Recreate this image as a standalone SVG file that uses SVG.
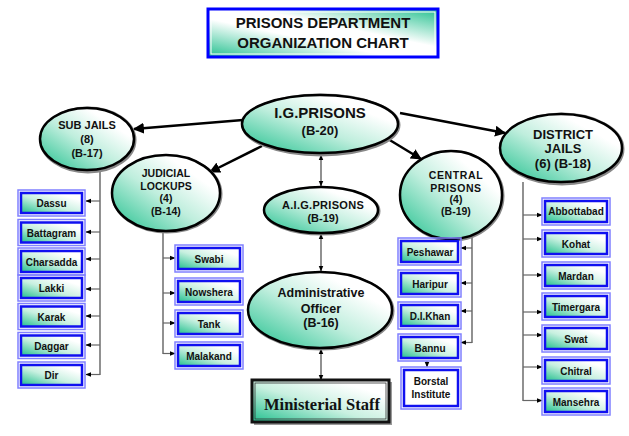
<svg xmlns="http://www.w3.org/2000/svg" width="629" height="436" viewBox="0 0 629 436">
<defs>
<linearGradient id="gEll" x1="0" y1="1" x2="1" y2="0">
<stop offset="0" stop-color="#1dbf8c"/>
<stop offset="0.45" stop-color="#bfeedd"/>
<stop offset="0.75" stop-color="#ffffff"/>
</linearGradient>
<linearGradient id="gBox" x1="0" y1="1" x2="1" y2="0">
<stop offset="0" stop-color="#22c08e"/>
<stop offset="0.45" stop-color="#c8f0e0"/>
<stop offset="0.8" stop-color="#ffffff"/>
</linearGradient>
<linearGradient id="gTitle" x1="0" y1="1" x2="1" y2="0">
<stop offset="0" stop-color="#22c08e"/>
<stop offset="0.4" stop-color="#ffffff"/>
<stop offset="0.6" stop-color="#ffffff"/>
<stop offset="1" stop-color="#22c08e"/>
</linearGradient>
<marker id="aBig" viewBox="0 0 10 10" refX="9" refY="5" markerWidth="4.4" markerHeight="4.4" orient="auto" markerUnits="strokeWidth">
<path d="M0,0 L10,5 L0,10 z" fill="#000"/>
</marker>
<marker id="aSm" viewBox="0 0 10 10" refX="9" refY="5" markerWidth="6" markerHeight="6" orient="auto" markerUnits="userSpaceOnUse">
<path d="M0,1 L10,5 L0,9 z" fill="#000"/>
</marker>
<marker id="aSmS" viewBox="0 0 10 10" refX="1" refY="5" markerWidth="6" markerHeight="6" orient="auto" markerUnits="userSpaceOnUse">
<path d="M10,1 L0,5 L10,9 z" fill="#000"/>
</marker>
</defs>
<style>
.ell{fill:url(#gEll);stroke:#000;stroke-width:2.5}
.sh{fill:none;stroke:#888;stroke-width:3}
.t{font-family:"Liberation Sans",Arial,sans-serif;font-weight:bold;fill:#111;text-anchor:middle}
.bo{fill:none;stroke:#8080ff;stroke-width:1.5}
.bi{fill:url(#gBox);stroke:#1010f0;stroke-width:2.5}
.bw{fill:#fff;stroke:#1010f0;stroke-width:2.5}
.bt{font-family:"Liberation Sans",Arial,sans-serif;font-weight:bold;fill:#111;text-anchor:middle;font-size:10px}
.thick{stroke:#000;stroke-width:2.5;fill:none;marker-end:url(#aBig)}
.thin{stroke:#555;stroke-width:1.3;fill:none}
.br{stroke:#666;stroke-width:1.2;fill:none;marker-end:url(#aSm)}
</style>

<g id="title">
<rect x="208" y="9" width="230" height="48" fill="url(#gTitle)" stroke="#0000ff" stroke-width="3"/>
<rect x="211" y="12" width="224" height="42" fill="none" stroke="#ffffff" stroke-width="1"/>
<text class="t" x="323" y="28" font-size="15">PRISONS DEPARTMENT</text>
<text class="t" x="323" y="48" font-size="15">ORGANIZATION CHART</text>
</g>

<g id="connectors">
<line class="thick" x1="243" y1="120" x2="134" y2="129"/>
<line class="thick" x1="262" y1="146" x2="210" y2="172"/>
<line class="thick" x1="400" y1="113" x2="505" y2="133"/>
<line class="thick" x1="388" y1="139" x2="421" y2="159"/>
<line class="thin" x1="321" y1="155" x2="321" y2="186" marker-start="url(#aSmS)" marker-end="url(#aSm)"/>
<line class="thin" x1="321" y1="234" x2="321" y2="271" marker-start="url(#aSmS)" marker-end="url(#aSm)"/>
<line class="thin" x1="321" y1="349" x2="321" y2="380" marker-start="url(#aSmS)" marker-end="url(#aSm)"/>
<!-- sub jails -->
<line class="thin" stroke="#777" x1="100" y1="166" x2="100" y2="375"/>
<line class="br" x1="100" y1="201" x2="86" y2="201"/>
<line class="br" x1="100" y1="232" x2="86" y2="232"/>
<line class="br" x1="100" y1="259" x2="86" y2="259"/>
<line class="br" x1="100" y1="289" x2="86" y2="289"/>
<line class="br" x1="100" y1="316" x2="86" y2="316"/>
<line class="br" x1="100" y1="345" x2="86" y2="345"/>
<line class="br" x1="100" y1="374.5" x2="86" y2="374.5"/>
<!-- judicial -->
<line class="thin" stroke="#777" x1="163" y1="230" x2="163" y2="354"/>
<line class="br" x1="163" y1="258" x2="175" y2="258"/>
<line class="br" x1="163" y1="293" x2="175" y2="293"/>
<line class="br" x1="163" y1="323" x2="175" y2="323"/>
<line class="br" x1="163" y1="353.5" x2="175" y2="353.5"/>
<!-- central -->
<line class="thin" stroke="#777" x1="472" y1="236" x2="472" y2="343"/>
<line class="br" x1="472" y1="248" x2="461" y2="248"/>
<line class="br" x1="472" y1="283" x2="461" y2="283"/>
<line class="br" x1="472" y1="311" x2="461" y2="311"/>
<line class="br" x1="472" y1="342.5" x2="461" y2="342.5"/>
<line class="br" x1="427" y1="361" x2="427" y2="367"/>
<!-- district -->
<line class="thin" stroke="#777" x1="523" y1="182" x2="523" y2="401"/>
<line class="br" x1="523" y1="215" x2="542" y2="215"/>
<line class="br" x1="523" y1="239" x2="542" y2="239"/>
<line class="br" x1="523" y1="275" x2="542" y2="275"/>
<line class="br" x1="523" y1="312" x2="542" y2="312"/>
<line class="br" x1="523" y1="335" x2="542" y2="335"/>
<line class="br" x1="523" y1="367" x2="542" y2="367"/>
<line class="br" x1="523" y1="400.5" x2="542" y2="400.5"/>
</g>

<g id="ig">
<ellipse class="sh" cx="321" cy="125" rx="78" ry="30"/>
<ellipse class="ell" cx="320" cy="124" rx="78" ry="29"/>
<text class="t" x="320" y="118" font-size="15">I.G.PRISONS</text>
<text class="t" x="320" y="135" font-size="13">(B-20)</text>
</g>

<g id="subjails">
<ellipse class="sh" cx="88" cy="140" rx="47" ry="32"/>
<ellipse class="ell" cx="87" cy="139" rx="47" ry="31"/>
<text class="t" x="87" y="129" font-size="11">SUB JAILS</text>
<text class="t" x="87" y="143" font-size="11">(8)</text>
<text class="t" x="87" y="157" font-size="11">(B-17)</text>
</g>

<g id="judicial">
<ellipse class="sh" cx="167" cy="194" rx="54" ry="38"/>
<ellipse class="ell" cx="166" cy="193" rx="54" ry="38"/>
<text class="t" x="166" y="177" font-size="10.5">JUDICIAL</text>
<text class="t" x="166" y="190" font-size="10.5">LOCKUPS</text>
<text class="t" x="166" y="202" font-size="10.5">(4)</text>
<text class="t" x="166" y="215" font-size="10.5">(B-14)</text>
</g>

<g id="aig">
<ellipse class="sh" cx="322" cy="211" rx="57" ry="23"/>
<ellipse class="ell" cx="321" cy="210" rx="57" ry="23"/>
<text class="t" x="323" y="209" font-size="11" letter-spacing="0.3">A.I.G.PRISONS</text>
<text class="t" x="323" y="222" font-size="11">(B-19)</text>
</g>

<g id="central">
<ellipse class="sh" cx="452" cy="196" rx="51" ry="44"/>
<ellipse class="ell" cx="451" cy="195" rx="51" ry="44"/>
<text class="t" x="456" y="179" font-size="10.5" letter-spacing="0.6">CENTRAL</text>
<text class="t" x="456" y="192" font-size="10.5" letter-spacing="0.6">PRISONS</text>
<text class="t" x="456" y="203" font-size="10.5">(4)</text>
<text class="t" x="456" y="215" font-size="10.5">(B-19)</text>
</g>

<g id="district">
<ellipse class="sh" cx="562" cy="149" rx="61" ry="35"/>
<ellipse class="ell" cx="561" cy="148" rx="61" ry="34"/>
<text class="t" x="563" y="139" font-size="13">DISTRICT</text>
<text class="t" x="563" y="153" font-size="13">JAILS</text>
<text class="t" x="563" y="168" font-size="13">(6) (B-18)</text>
</g>

<g id="admin">
<ellipse class="sh" cx="321" cy="311" rx="72" ry="38"/>
<ellipse class="ell" cx="320" cy="310" rx="72" ry="38"/>
<text class="t" x="321" y="297" font-size="12.5">Administrative</text>
<text class="t" x="321" y="313" font-size="12.5">Officer</text>
<text class="t" x="321" y="327" font-size="12.5">(B-16)</text>
</g>

<g id="ministerial">
<rect x="254" y="382" width="138" height="43" fill="#999"/>
<rect x="252" y="380" width="137" height="42" fill="url(#gBox)" stroke="#111" stroke-width="3"/>
<rect x="255" y="383" width="131" height="36" fill="none" stroke="#333" stroke-width="0.8"/>
<text x="322" y="410" font-family="'Liberation Serif','Times New Roman',serif" font-weight="bold" font-size="16.5" fill="#111" text-anchor="middle">Ministerial Staff</text>
</g>

<g id="dassu"><rect class="bo" x="18" y="190" width="67" height="26"/><rect class="bi" x="21" y="193" width="61" height="20"/><text class="bt" x="51.5" y="207">Dassu</text></g>
<g id="battagram"><rect class="bo" x="18" y="219.5" width="67" height="26"/><rect class="bi" x="21" y="222.5" width="61" height="20"/><text class="bt" x="51.5" y="236.5">Battagram</text></g>
<g id="charsadda"><rect class="bo" x="18" y="248" width="67" height="27"/><rect class="bi" x="21" y="251" width="61" height="21"/><text class="bt" x="51.5" y="265.5">Charsadda</text></g>
<g id="lakki"><rect class="bo" x="18" y="275" width="67" height="26"/><rect class="bi" x="21" y="278" width="61" height="20"/><text class="bt" x="51.5" y="292">Lakki</text></g>
<g id="karak"><rect class="bo" x="18" y="303.5" width="67" height="26"/><rect class="bi" x="21" y="306.5" width="61" height="20"/><text class="bt" x="51.5" y="320.5">Karak</text></g>
<g id="daggar"><rect class="bo" x="18" y="332.5" width="67" height="26"/><rect class="bi" x="21" y="335.5" width="61" height="20"/><text class="bt" x="51.5" y="349.5">Daggar</text></g>
<g id="dir"><rect class="bo" x="18" y="362" width="67" height="26"/><rect class="bi" x="21" y="365" width="61" height="20"/><text class="bt" x="51.5" y="379">Dir</text></g>

<g id="swabi"><rect class="bo" x="175" y="245" width="68" height="27"/><rect class="bi" x="178" y="248" width="62" height="21"/><text class="bt" x="209" y="262.5">Swabi</text></g>
<g id="nowshera"><rect class="bo" x="175" y="278" width="68" height="27"/><rect class="bi" x="178" y="281" width="62" height="21"/><text class="bt" x="209" y="295.5">Nowshera</text></g>
<g id="tank"><rect class="bo" x="175" y="310" width="68" height="27"/><rect class="bi" x="178" y="313" width="62" height="21"/><text class="bt" x="209" y="327.5">Tank</text></g>
<g id="malakand"><rect class="bo" x="175" y="342" width="68" height="27"/><rect class="bi" x="178" y="345" width="62" height="21"/><text class="bt" x="209" y="359.5">Malakand</text></g>

<g id="peshawar"><rect class="bo" x="398" y="238" width="63" height="27"/><rect class="bi" x="401" y="241" width="57" height="21"/><text class="bt" x="430" y="255.5" font-size="9.5">Peshawar</text></g>
<g id="haripur"><rect class="bo" x="398" y="270" width="63" height="27"/><rect class="bi" x="401" y="273" width="57" height="21"/><text class="bt" x="430" y="287.5">Haripur</text></g>
<g id="dikhan"><rect class="bo" x="398" y="302" width="63" height="27"/><rect class="bi" x="401" y="305" width="57" height="21"/><text class="bt" x="430" y="319.5">D.I.Khan</text></g>
<g id="bannu"><rect class="bo" x="398" y="334" width="63" height="27"/><rect class="bi" x="401" y="337" width="57" height="21"/><text class="bt" x="430" y="351.5">Bannu</text></g>
<g id="borstal"><rect class="bo" x="401" y="367" width="60" height="42"/><rect class="bw" x="404" y="370" width="54" height="36"/><text class="bt" x="431" y="384.5">Borstal</text><text class="bt" x="431" y="397.5">Institute</text></g>

<g id="abbottabad"><rect class="bo" x="542" y="198" width="68" height="27"/><rect class="bi" x="545" y="201" width="62" height="21"/><text class="bt" x="576" y="215" font-size="9.5">Abbottabad</text></g>
<g id="kohat"><rect class="bo" x="542" y="230" width="68" height="27"/><rect class="bi" x="545" y="233" width="62" height="21"/><text class="bt" x="576" y="247.5">Kohat</text></g>
<g id="mardan"><rect class="bo" x="542" y="262" width="68" height="27"/><rect class="bi" x="545" y="265" width="62" height="21"/><text class="bt" x="576" y="279.5">Mardan</text></g>
<g id="timergara"><rect class="bo" x="542" y="293" width="68" height="27"/><rect class="bi" x="545" y="296" width="62" height="21"/><text class="bt" x="576" y="310.5">Timergara</text></g>
<g id="swat"><rect class="bo" x="542" y="325" width="68" height="27"/><rect class="bi" x="545" y="328" width="62" height="21"/><text class="bt" x="576" y="342.5">Swat</text></g>
<g id="chitral"><rect class="bo" x="542" y="357" width="68" height="27"/><rect class="bi" x="545" y="360" width="62" height="21"/><text class="bt" x="576" y="374.5">Chitral</text></g>
<g id="mansehra"><rect class="bo" x="542" y="388" width="68" height="27"/><rect class="bi" x="545" y="391" width="62" height="21"/><text class="bt" x="576" y="405.5">Mansehra</text></g>
</svg>
